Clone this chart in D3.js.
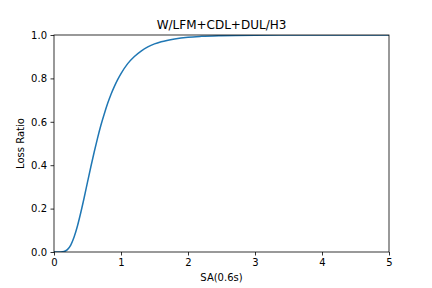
<!DOCTYPE html>
<html>
<head>
<meta charset="utf-8">
<script src="https://cdn.jsdelivr.net/npm/d3@7"></script>
<style>
  body { margin: 0; background: #fff; }
  svg { display: block; font-family: 'DejaVu Sans', sans-serif; }
</style>
</head>
<body>
<svg id="chart" width="432" height="288"></svg>
<script>
// values
const sa = [0, 0.1, 0.15, 0.2, 0.25, 0.3, 0.35, 0.4, 0.45, 0.5, 0.55, 0.6, 0.65, 0.7, 0.75,
  0.8, 0.85, 0.9, 0.95, 1.0, 1.1, 1.2, 1.3, 1.4, 1.5, 1.6, 1.8, 2.0, 2.2, 2.5, 3.0, 4.0, 5.0]
const lossRatio = [0, 0.0001, 0.002, 0.011, 0.032, 0.069, 0.12, 0.182, 0.25, 0.322, 0.393, 0.461,
  0.525, 0.584, 0.636, 0.684, 0.726, 0.762, 0.794, 0.822, 0.868, 0.901, 0.926, 0.945, 0.959,
  0.969, 0.982, 0.99, 0.994, 0.997, 0.999, 1.0, 1.0]
const xTicks = [0, 1, 2, 3, 4, 5]
const yTicks = [0, 0.2, 0.4, 0.6, 0.8, 1.0]

const title = 'W/LFM+CDL+DUL/H3'
const xLabel = 'SA(0.6s)'
const yLabel = 'Loss Ratio'

const margin = { top: 35, right: 43, bottom: 36, left: 54 }
const width = 432
const height = 288
const chartWidth = width - margin.left - margin.right
const chartHeight = height - margin.top - margin.bottom

const svg = d3.select('#chart')
const g = svg.append('g').attr('transform', `translate(${margin.left},${margin.top})`)

const x = d3.scaleLinear().domain([0, 5]).range([0, chartWidth])
const y = d3.scaleLinear().domain([0, 1]).range([chartHeight, 0])

const data = sa.map((d, i) => [d, lossRatio[i]])

g.append('clipPath').attr('id', 'clip')
  .append('rect').attr('width', chartWidth).attr('height', chartHeight)

g.append('path')
  .datum(data)
  .attr('clip-path', 'url(#clip)')
  .attr('fill', 'none')
  .attr('stroke', '#1f77b4')
  .attr('stroke-width', 1.5)
  .attr('stroke-linejoin', 'round')
  .attr('d', d3.line().x((d) => x(d[0])).y((d) => y(d[1])).curve(d3.curveMonotoneX))

// axes
const xAxis = g.append('g')
  .attr('transform', `translate(0,${chartHeight})`)
  .call(d3.axisBottom(x).tickValues(xTicks).tickFormat(d3.format('d')).tickSize(3.5).tickPadding(3.5))
const yAxis = g.append('g')
  .call(d3.axisLeft(y).tickValues(yTicks).tickFormat(d3.format('.1f')).tickSize(3.5).tickPadding(3.5))

for (const ax of [xAxis, yAxis]) {
  ax.select('.domain').remove()
  ax.selectAll('line').attr('stroke', '#000').attr('stroke-width', 0.8)
  ax.selectAll('text').attr('font-size', 10).attr('fill', '#000')
    .attr('font-family', "'DejaVu Sans', sans-serif")
}

// frame
g.append('rect')
  .attr('width', chartWidth)
  .attr('height', chartHeight)
  .attr('fill', 'none')
  .attr('stroke', '#000')
  .attr('stroke-width', 0.8)

g.append('text')
  .attr('x', chartWidth / 2)
  .attr('y', -6)
  .attr('text-anchor', 'middle')
  .attr('font-size', 12)
  .text(title)

g.append('text')
  .attr('x', chartWidth / 2)
  .attr('y', chartHeight + 29)
  .attr('text-anchor', 'middle')
  .attr('font-size', 10)
  .text(xLabel)

g.append('text')
  .attr('transform', `translate(${-30},${chartHeight / 2}) rotate(-90)`)
  .attr('text-anchor', 'middle')
  .attr('font-size', 10)
  .text(yLabel)
</script>
</body>
</html>
